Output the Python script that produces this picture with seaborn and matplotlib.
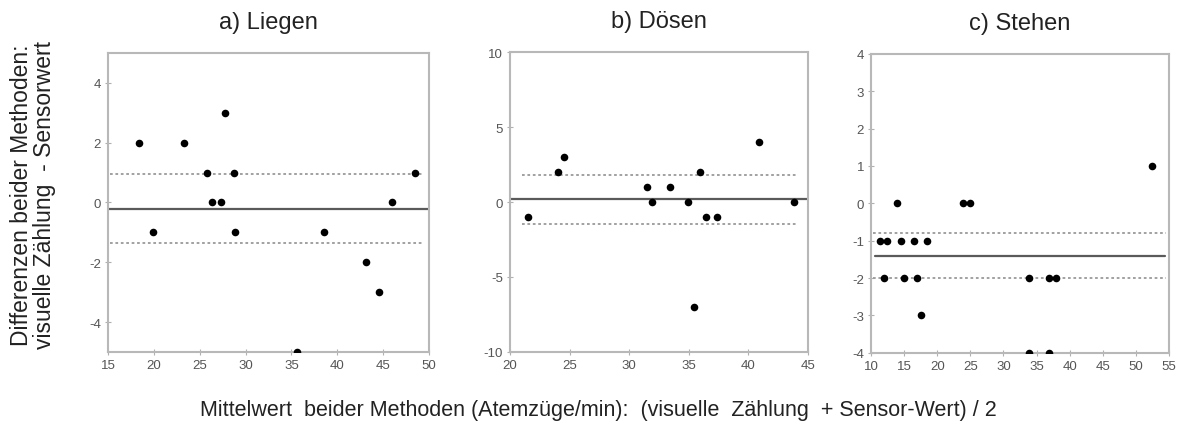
import matplotlib
matplotlib.use("Agg")
import matplotlib.pyplot as plt
import seaborn as sns
import pandas as pd

# a) Liegen
liegen_mean = [18.4, 19.9, 23.3, 25.8, 26.3, 27.3, 27.8, 28.7, 28.8, 35.6, 38.6, 43.1, 44.6, 46.0, 48.5]
liegen_diff = [2, -1, 2, 1, 0, 0, 3, 1, -1, -5, -1, -2, -3, 0, 1]
liegen_lines = [-0.21, 0.96, -1.36]  # mean, upper, lower

# b) Dösen
doesen_mean = [21.5, 24.0, 24.5, 31.45, 31.95, 33.4, 34.9, 35.4, 35.9, 36.4, 37.4, 40.9, 43.8]
doesen_diff = [-1, 2, 3, 1, 0, 1, 0, -7, 2, -1, -1, 4, 0]
doesen_lines = [0.2, 1.8, -1.44]

# c) Stehen
stehen_mean = [11.36, 12.46, 11.96, 13.97, 14.47, 15.03, 16.49, 16.94, 17.49, 18.5,
               23.9, 25.0, 33.9, 33.9, 36.9, 36.9, 37.9, 52.4]
stehen_diff = [-1, -1, -2, 0, -1, -2, -1, -2, -3, -1, 0, 0, -2, -4, -2, -4, -2, 1]
stehen_lines = [-1.42, -0.79, -2.0]

titles = ["a) Liegen", "b) Dösen", "c) Stehen"]
xlims = [(15, 50), (20, 45), (10, 55)]
ylims = [(-5, 5), (-10, 10), (-4, 4)]
xticks = [list(range(15, 51, 5)), list(range(20, 46, 5)), list(range(10, 56, 5))]
yticks = [[-4, -2, 0, 2, 4], [-10, -5, 0, 5, 10], [-4, -3, -2, -1, 0, 1, 2, 3, 4]]

ylabel = "Differenzen beider Methoden:\nvisuelle Zählung  - Sensorwert"
xlabel = "Mittelwert  beider Methoden (Atemzüge/min):  (visuelle  Zählung  + Sensor-Wert) / 2"

sns.set_theme(style="white")
plt.rcParams["font.family"] = ["Liberation Sans", "DejaVu Sans"]
plt.rcParams["axes.unicode_minus"] = False

fig = plt.figure(figsize=(11.85, 4.39), dpi=100)
axes_rects = [
    [0.0911, 0.196, 0.2709, 0.681],
    [0.4304, 0.196, 0.2515, 0.683],
    [0.7350, 0.194, 0.2515, 0.681],
]
# line extents (fractions of axes width) for mean and limit lines
mean_span = [(0.0, 1.0), (0.0, 1.0), (0.013, 0.985)]
lim_span = [(0.005, 0.985), (0.04, 0.966), (0.008, 0.99)]

panels = [
    (liegen_mean, liegen_diff, liegen_lines),
    (doesen_mean, doesen_diff, doesen_lines),
    (stehen_mean, stehen_diff, stehen_lines),
]

for i, (xm, yd, lines) in enumerate(panels):
    ax = fig.add_axes(axes_rects[i])
    df = pd.DataFrame({"mittel": xm, "diff": yd})
    m, up, lo = lines
    ax.axhline(m, xmin=mean_span[i][0], xmax=mean_span[i][1], color="#5a5a5a", lw=1.6, zorder=1)
    for v in (up, lo):
        ax.axhline(v, xmin=lim_span[i][0], xmax=lim_span[i][1], color="#9a9a9a",
                   lw=1.3, ls=(0, (1.5, 1.5)), zorder=1)
    sns.scatterplot(data=df, x="mittel", y="diff", ax=ax, color="black", s=30,
                    edgecolor="black", linewidth=0, zorder=3)
    ax.set_xlim(*xlims[i])
    ax.set_ylim(*ylims[i])
    ax.set_xticks(xticks[i])
    ax.set_yticks(yticks[i])
    ax.set_xlabel("")
    ax.set_ylabel("")
    ax.set_title(titles[i], fontsize=17, pad=18, color="#222222")
    for sp in ax.spines.values():
        sp.set_color("#b8b8b8")
        sp.set_linewidth(1.5)
    ax.tick_params(axis="both", which="major", length=4, width=0.8, color="#b0b0b0",
                   labelsize=9.5, labelcolor="#555555", direction="inout", pad=3,
                   bottom=True, left=True)

fig.text(0.028, 0.555, ylabel, rotation=90, ha="center", va="center",
         fontsize=16.5, color="#222222", linespacing=1.0)
fig.text(0.505, 0.065, xlabel, ha="center", va="center", fontsize=15.5, color="#222222")

fig.savefig("out.png", dpi=100)
